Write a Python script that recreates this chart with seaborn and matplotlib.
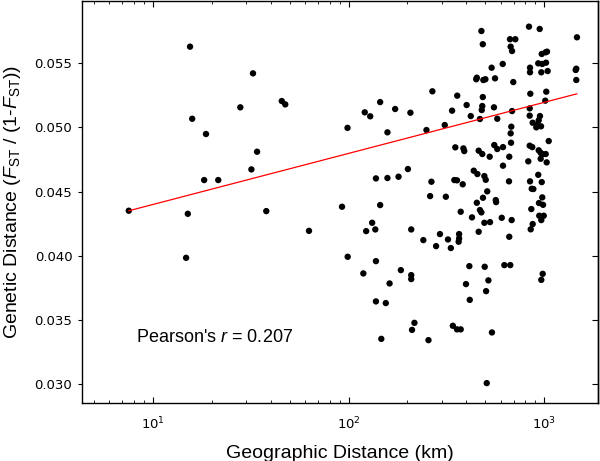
import matplotlib
matplotlib.use("Agg")
import matplotlib.pyplot as plt
import seaborn as sns
import numpy as np
import pandas as pd
from matplotlib.ticker import LogLocator, NullFormatter, FormatStrFormatter, FixedLocator

# ---------------- data ----------------
dist_km = [
    7.54, 15.1, 14.8, 15.5, 15.9, 18.7, 18.3, 21.6, 32.5, 28.0, 45.6, 47.5, 34.1, 31.9, 38.0, 62.8, 92.6, 99.0, 98.8,
    1468, 477, 485, 835, 947, 668, 711, 673, 684, 970, 1016, 1032, 613, 538, 845, 845, 931, 976, 1020, 965, 1040, 1446, 1456, 1456,
    452, 449, 488, 500, 560, 694, 268, 359, 485, 848, 1023, 1011,
    145, 121, 129, 173, 207, 338, 401, 421, 482, 479, 469, 553, 575, 684, 842, 842, 872, 950, 936, 910, 962, 921,
    158, 250, 310, 678, 673, 676, 351, 386, 390, 462, 482, 526, 555, 575, 615, 662, 615, 842, 868, 936, 958, 976, 1016, 958, 1053, 1028, 828,
    138, 158, 180, 201, 265, 347, 358, 383, 436, 455, 494, 502, 660, 931, 845, 970, 862, 879, 511, 261, 314, 486, 565, 976,
    145, 452, 567, 939, 985, 858, 374, 427, 469, 477, 494, 528, 606, 681, 942, 993, 965, 872, 852,
    132, 123, 137, 209, 241, 293, 322, 280, 333, 367, 367, 365, 462, 662,
    138, 119, 185, 209, 209, 162, 138, 155, 414, 496, 625, 670, 398, 518, 504, 416, 981, 965,
    217, 211, 341, 358, 374, 540, 147, 256, 508,
]
genetic_dist = [
    0.04351, 0.04327, 0.03984, 0.05630, 0.05068, 0.04949, 0.04590, 0.04590, 0.05422, 0.05157, 0.05206, 0.05180, 0.04811, 0.04673, 0.04348, 0.04194, 0.04382, 0.03992, 0.04997,
    0.05703, 0.05752, 0.05649, 0.05786, 0.05768, 0.05688, 0.05688, 0.05630, 0.05596, 0.05573, 0.05586, 0.05591, 0.05495, 0.05466, 0.05466, 0.05430, 0.05500, 0.05495, 0.05505, 0.05430, 0.05440, 0.05448, 0.05458, 0.05370,
    0.05388, 0.05376, 0.05370, 0.05376, 0.05383, 0.05354, 0.05282, 0.05248, 0.05237, 0.05263, 0.05279, 0.05209,
    0.05198, 0.05118, 0.05087, 0.05144, 0.05115, 0.05131, 0.05175, 0.05089, 0.05167, 0.05136, 0.05066, 0.05157, 0.05068, 0.05128, 0.05149, 0.05092, 0.05037, 0.05089, 0.05056, 0.05001, 0.05009, 0.05021,
    0.04962, 0.04980, 0.05019, 0.05006, 0.04954, 0.04881, 0.04845, 0.04837, 0.04816, 0.04819, 0.04793, 0.04772, 0.04863, 0.04832, 0.04847, 0.04772, 0.04702, 0.04858, 0.04847, 0.04822, 0.04803, 0.04791, 0.04793, 0.04756, 0.04894, 0.04728, 0.04736,
    0.04603, 0.04606, 0.04616, 0.04676, 0.04577, 0.04590, 0.04588, 0.04557, 0.04663, 0.04637, 0.04621, 0.04592, 0.04580, 0.04631, 0.04580, 0.04574, 0.04522, 0.04520, 0.04502, 0.04465, 0.04460, 0.04452, 0.04434, 0.04455,
    0.04395, 0.04413, 0.04418, 0.04411, 0.04397, 0.04364, 0.04343, 0.04299, 0.04356, 0.04338, 0.04257, 0.04262, 0.04296, 0.04278, 0.04312, 0.04312, 0.04278, 0.04247, 0.04206,
    0.04257, 0.04192, 0.04205, 0.04205, 0.04122, 0.04169, 0.04127, 0.04075, 0.04060, 0.04169, 0.04135, 0.04109, 0.04187, 0.04148,
    0.03958, 0.03862, 0.03888, 0.03849, 0.03818, 0.03784, 0.03644, 0.03631, 0.03919, 0.03914, 0.03927, 0.03927, 0.03779, 0.03808, 0.03724, 0.03656, 0.03859, 0.03812,
    0.03477, 0.03422, 0.03454, 0.03426, 0.03426, 0.03402, 0.03352, 0.03342, 0.03007,
]
# fitted trend line as drawn in the figure: gd = intercept + slope * log10(dist)
fit_intercept = 0.04001
fit_slope = 0.003984
y_ticks = [0.030, 0.035, 0.040, 0.045, 0.050, 0.055]
x_ticks = [10, 100, 1000]
pearson_label = r"Pearson's $r$ = 0.207"
x_label = "Geographic Distance (km)"
y_label = r"Genetic Distance ($F_{\mathrm{ST}}$ / (1-$F_{\mathrm{ST}}$))"

# ---------------- style ----------------
sns.set_theme(style="white")
plt.rcParams["font.family"] = ["DejaVu Sans"]
plt.rcParams["mathtext.fontset"] = "dejavusans"
plt.rcParams["mathtext.rm"] = "Liberation Sans"
plt.rcParams["mathtext.it"] = "Liberation Sans:italic"
plt.rcParams["mathtext.bf"] = "Liberation Sans:bold"
plt.rcParams["mathtext.sf"] = "Liberation Sans"

df = pd.DataFrame({"dist": dist_km, "gd": genetic_dist})
x_fit = np.array([min(dist_km), max(dist_km)])
fit_df = pd.DataFrame({"dist": x_fit, "gd": fit_intercept + fit_slope * np.log10(x_fit)})

fig = plt.figure(figsize=(6.0, 4.61), dpi=100)
ax = fig.add_axes([82 / 600, 58 / 461, 516 / 600, 402 / 461])

sns.scatterplot(data=df, x="dist", y="gd", color="black", s=21, edgecolor="none",
                linewidth=0, ax=ax, zorder=3)
sns.lineplot(data=fit_df, x="dist", y="gd", color="red", lw=0.9, ax=ax, zorder=4)

ax.set_xscale("log")
ax.set_xlim(4.35, 1880)
ax.set_ylim(0.02852, 0.05986)

ax.xaxis.set_major_locator(FixedLocator(x_ticks))
ax.xaxis.set_minor_locator(LogLocator(base=10, subs=np.arange(2, 10)))
ax.xaxis.set_minor_formatter(NullFormatter())
ax.set_yticks(y_ticks)
ax.yaxis.set_major_formatter(FormatStrFormatter("%.3f"))

ax.tick_params(axis="x", which="both", direction="in", top=True, bottom=True,
               colors="black", labelsize=9.5, pad=9)
ax.tick_params(axis="x", which="major", length=4, width=0.8)
ax.tick_params(axis="x", which="minor", length=2, width=0.6)
ax.tick_params(axis="y", which="major", direction="out", left=True, right=False,
               length=3, width=0.8, labelsize=9.5, pad=4, colors="black")

sec = ax.secondary_yaxis("right")
sec.set_yticks(y_ticks)
sec.tick_params(direction="in", length=4, width=0.8, labelright=False, colors="black")
sec.spines["right"].set_color("black")
sec.spines["right"].set_linewidth(1.0)

for sp in ax.spines.values():
    sp.set_visible(True)
    sp.set_color("black")
    sp.set_linewidth(1.0)

ax.set_xlabel(x_label, fontsize=14, family="Liberation Sans", labelpad=9, color="black")
ax.set_ylabel(y_label, fontsize=14, family="Liberation Sans", math_fontfamily="custom",
              labelpad=8, color="black")
ax.grid(False)

ax.text(0.105, 0.152, pearson_label, transform=ax.transAxes, fontsize=13,
        family="Liberation Sans", math_fontfamily="custom", va="baseline", color="black")

fig.savefig("out.png", dpi=100)
